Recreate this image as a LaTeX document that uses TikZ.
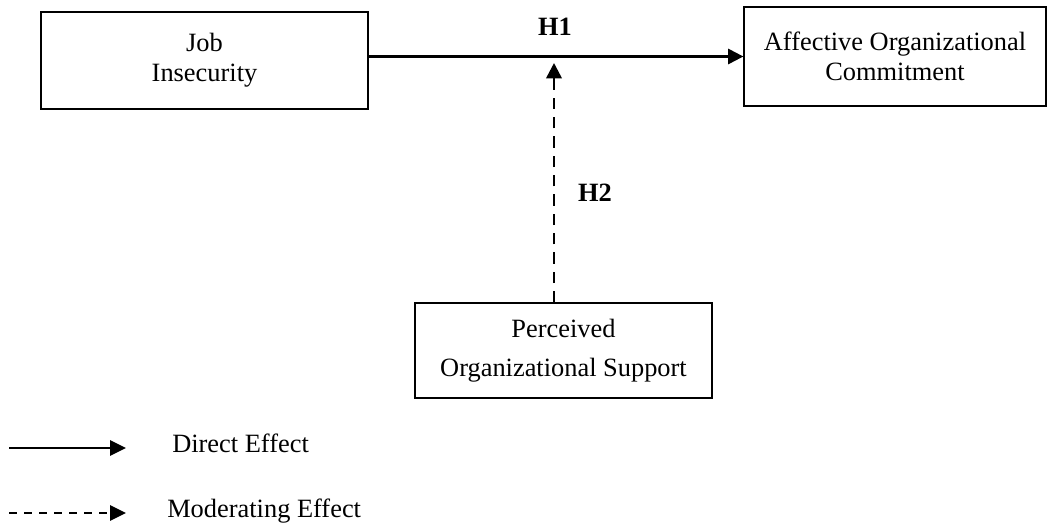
\documentclass[tikz,border=0pt]{standalone}
\usepackage{fontspec}
\setmainfont{Liberation Serif}
\usetikzlibrary{arrows.meta}
\begin{document}
\begin{tikzpicture}[x=0.75pt,y=-0.75pt,
  every node/.style={font=\fontsize{19.8}{22.5}\selectfont},
  box/.style={draw,line width=1pt,inner sep=0pt,align=center},
  conn/.style={line width=1.7pt,-{Triangle[length=11.5pt,width=11.5pt]}},
  modconn/.style={conn,line width=1.9pt,dash pattern=on 8.5pt off 6pt},
  legsolid/.style={line width=1.5pt,-{Triangle[length=12pt,width=11.5pt]}},
  legdash/.style={legsolid,dash pattern=on 6pt off 5.25pt},
  hyp/.style={font=\fontsize{19.8}{22.5}\selectfont\bfseries,inner sep=0pt}]
\useasboundingbox (0,0) rectangle (1048,524);
\node[box,minimum width=245.25pt,minimum height=72.75pt] (job) at (204.5,60.5) {Job\\Insecurity};
\node[box,minimum width=226.5pt,minimum height=74.25pt] (aoc) at (895,56.5) {Affective Organizational\\Commitment};
\node[box,minimum width=222.75pt,minimum height=71.25pt] (pos) at (563.5,350.5) {Perceived\\[6.75pt]Organizational Support};
\node[hyp] (h1) at (555,27) {H1};
\node[hyp] (h2) at (595,193) {H2};
\coordinate (mtip) at (554,63);
\draw[conn] (aoc.west -| job.east) -- (aoc.west);
\draw[modconn] (mtip |- pos.north) -- (mtip);
% legend
\coordinate (ls1) at (9,448);
\coordinate (le1) at (126,448);
\coordinate (ls2) at (9,513);
\coordinate (le2) at (126,513);
\draw[legsolid] (ls1) -- (le1);
\draw[legdash] (ls2) -- (le2);
\node[anchor=base west,inner sep=0pt] (ld) at (172,452) {Direct Effect};
\node[anchor=base west,inner sep=0pt] (lm) at (167,517) {Moderating Effect};
\end{tikzpicture}
\end{document}
